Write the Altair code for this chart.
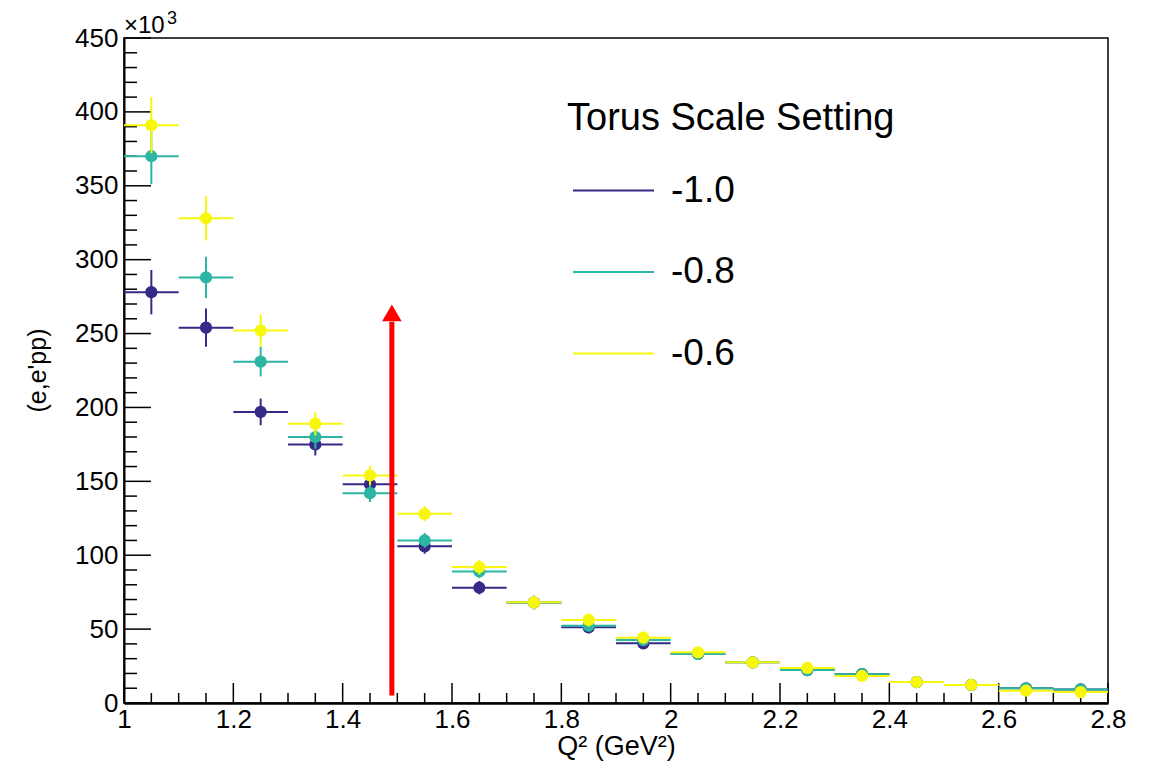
import altair as alt
import pandas as pd

FONT = "Liberation Sans"

# Bin centres of Q^2 (GeV^2); bins are 0.1 wide
q2 = [1.05, 1.15, 1.25, 1.35, 1.45, 1.55, 1.65, 1.75, 1.85,
      1.95, 2.05, 2.15, 2.25, 2.35, 2.45, 2.55, 2.65, 2.75]
half_bin = 0.05

series_names = ["-1.0", "-0.8", "-0.6"]
series_colors = ["#352a87", "#2db5a4", "#f7f70c"]

# counts in units of 10^3
counts_m10 = [278, 254, 197, 175, 148, 106, 78, 68, 51.2, 40.4, 33.2, 27.5, 22.3, 19.5, 14.2, 12.2, 9.9, 9.2]
err_m10 = [15, 13, 9, 7.5, 6, 5, 4.5, 4.5, 4, 3.5, 3.5, 3, 3, 2.5, 2.5, 2, 2, 2]

counts_m08 = [370, 288, 231, 180, 142, 110, 89, 68, 52.3, 42.6, 33.2, 27.5, 22.3, 19.5, 14.2, 12.2, 9.9, 9.2]
err_m08 = [19, 14, 10, 8, 6, 5, 4.5, 4.5, 4, 3.5, 3.5, 3, 3, 2.5, 2.5, 2, 2, 2]

counts_m06 = [391, 328, 252, 189, 154, 128, 92, 68.1, 56.2, 44.2, 34.3, 27.5, 23.7, 18.3, 14.2, 12.2, 8.3, 7.4]
err_m06 = [19, 15, 11, 8, 6.5, 5, 5, 4.5, 4.5, 4, 3.5, 3.5, 3, 3, 2.5, 2.5, 2, 2]

# axis ticks
x_major = [1.0, 1.2, 1.4, 1.6, 1.8, 2.0, 2.2, 2.4, 2.6, 2.8]
x_minor = [round(1.0 + 0.05 * i, 2) for i in range(37) if i % 4 != 0]
y_major = [0, 50, 100, 150, 200, 250, 300, 350, 400, 450]
y_minor = [v for v in range(0, 451, 10) if v % 50 != 0]

# red arrow
arrow_x = [1.49]
arrow_y0 = [5]
arrow_y1 = [258]
arrow_head = [264]

rows = []
for name, vals, errs in zip(series_names, [counts_m10, counts_m08, counts_m06],
                            [err_m10, err_m08, err_m06]):
    for q, v, e in zip(q2, vals, errs):
        rows.append({"series": name, "q2": q, "val": v, "err": e})
df = pd.DataFrame(rows)

x_scale = alt.Scale(domain=[1.0, 2.8], nice=False, zero=False)
y_scale = alt.Scale(domain=[0, 450], nice=False, zero=True)
color_scale = alt.Scale(domain=series_names, range=series_colors)

x_axis = alt.Axis(values=x_major, format="~g", title="Q² (GeV²)", ticks=False, grid=False,
                  labelFlush=False, labelFontSize=26, labelFont=FONT, labelColor="black",
                  labelPadding=3, domainWidth=2.5, domainColor="black",
                  titleFontSize=27, titleFont=FONT, titleFontWeight="normal", titleColor="black",
                  titleY=43, titleBaseline="middle")
y_axis = alt.Axis(values=y_major, format="d", title="(e,e'pp)", ticks=False, grid=False,
                  labelFontSize=26, labelFont=FONT, labelColor="black", labelPadding=6,
                  domainWidth=2, domainColor="black",
                  titleFontSize=25, titleFont=FONT, titleFontWeight="normal", titleColor="black",
                  titleX=-87, titleY=332, titleAngle=270, titleAlign="center", titleBaseline="middle")

legend = alt.Legend(orient="none", legendX=443, legendY=62, title="Torus Scale Setting",
                    titleFontSize=38, titleFont=FONT, titleFontWeight="normal", titleColor="black",
                    titlePadding=11, titleLimit=800, labelFontSize=37, labelFont=FONT,
                    labelColor="black", labelLimit=300,
                    symbolType="stroke", symbolSize=6561, symbolStrokeWidth=2,
                    symbolOffset=5, labelOffset=16, rowPadding=21.5, padding=0)

layers = []

# tick marks (inside the frame, ROOT style)
layers.append(alt.Chart(pd.DataFrame({"v": y_major})).mark_rule(color="black", strokeWidth=1.5).encode(
    y=alt.Y("v:Q", scale=y_scale, axis=y_axis), x=alt.value(0), x2=alt.value(27)))
layers.append(alt.Chart(pd.DataFrame({"v": y_minor})).mark_rule(color="black", strokeWidth=1.5).encode(
    y=alt.Y("v:Q", scale=y_scale, axis=y_axis), x=alt.value(0), x2=alt.value(13)))
layers.append(alt.Chart(pd.DataFrame({"v": x_major})).mark_rule(color="black", strokeWidth=1.5).encode(
    x=alt.X("v:Q", scale=x_scale, axis=x_axis), y=alt.value(665), y2=alt.value(645)))
layers.append(alt.Chart(pd.DataFrame({"v": x_minor})).mark_rule(color="black", strokeWidth=1.5).encode(
    x=alt.X("v:Q", scale=x_scale, axis=x_axis), y=alt.value(665), y2=alt.value(655)))

base = alt.Chart(df)
for name in series_names:
    sub = base.transform_filter(alt.datum.series == name)
    hbar = sub.transform_calculate(
        lo=f"datum.q2 - {half_bin}", hi=f"datum.q2 + {half_bin}"
    ).mark_rule(strokeWidth=2).encode(
        x=alt.X("lo:Q", scale=x_scale, axis=x_axis),
        x2="hi:Q",
        y=alt.Y("val:Q", scale=y_scale, axis=y_axis),
        stroke=alt.Stroke("series:N", scale=color_scale, legend=legend),
    )
    vbar = sub.transform_calculate(
        ylo="datum.val - datum.err", yhi="datum.val + datum.err"
    ).mark_rule(strokeWidth=2).encode(
        x=alt.X("q2:Q", scale=x_scale, axis=x_axis),
        y=alt.Y("ylo:Q", scale=y_scale, axis=y_axis),
        y2="yhi:Q",
        stroke=alt.Stroke("series:N", scale=color_scale, legend=legend),
    )
    pts = sub.mark_circle(size=150, opacity=1).encode(
        x=alt.X("q2:Q", scale=x_scale, axis=x_axis),
        y=alt.Y("val:Q", scale=y_scale, axis=y_axis),
        fill=alt.Fill("series:N", scale=color_scale, legend=None),
    )
    layers += [hbar, vbar, pts]

arrow_df = pd.DataFrame({"x": arrow_x, "y0": arrow_y0, "y1": arrow_y1, "head": arrow_head})
layers.append(alt.Chart(arrow_df).mark_rule(color="#ff0000", strokeWidth=5).encode(
    x=alt.X("x:Q", scale=x_scale, axis=x_axis),
    y=alt.Y("y0:Q", scale=y_scale, axis=y_axis), y2="y1:Q"))
layers.append(alt.Chart(arrow_df).mark_point(shape="triangle-up", filled=True, size=380,
                                             color="#ff0000", opacity=1).encode(
    x=alt.X("x:Q", scale=x_scale, axis=x_axis),
    y=alt.Y("head:Q", scale=y_scale, axis=y_axis)))

# axis multiplier "x10^3"
layers.append(alt.Chart(arrow_df).mark_text(text="×10", font=FONT, fontSize=24, align="left",
                                            baseline="alphabetic", color="black").encode(
    x=alt.value(0), y=alt.value(-5)))
layers.append(alt.Chart(arrow_df).mark_text(text="3", font=FONT, fontSize=18, align="left",
                                            baseline="alphabetic", color="black").encode(
    x=alt.value(43), y=alt.value(-14)))

chart = alt.layer(*layers).properties(
    width=984, height=665,
    autosize=alt.AutoSizeParams(type="none"),
    padding={"left": 124, "top": 38, "right": 45, "bottom": 63},
    background="white",
).configure_view(stroke="black", strokeWidth=1.5)

chart.save("out.html", embed_options={"renderer": "svg", "actions": False})
